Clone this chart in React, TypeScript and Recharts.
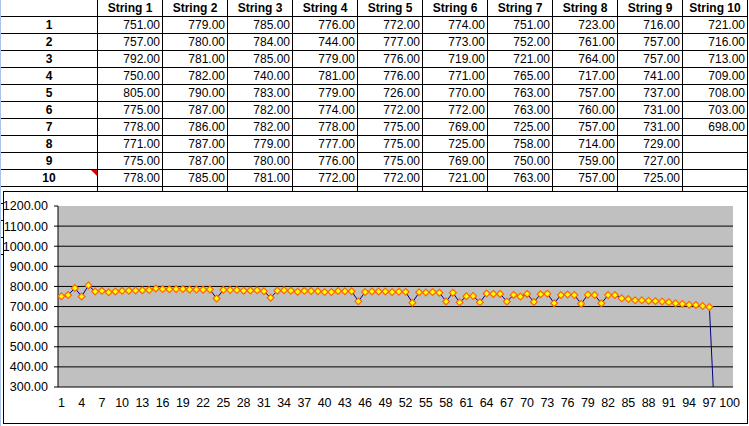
import React from 'react';
import {
  LineChart,
  Line,
  XAxis,
  YAxis,
  CartesianGrid,
} from 'recharts';

// readings per string, top to bottom as in the sheet
const STRING_NAMES = [
  'String 1', 'String 2', 'String 3', 'String 4', 'String 5',
  'String 6', 'String 7', 'String 8', 'String 9', 'String 10',
];
const STRING_1 = [751, 757, 792, 750, 805, 775, 778, 771, 775, 778];
const STRING_2 = [779, 780, 781, 782, 790, 787, 786, 787, 787, 785];
const STRING_3 = [785, 784, 785, 740, 783, 782, 782, 779, 780, 781];
const STRING_4 = [776, 744, 779, 781, 779, 774, 778, 777, 776, 772];
const STRING_5 = [772, 777, 776, 776, 726, 772, 775, 775, 775, 772];
const STRING_6 = [774, 773, 719, 771, 770, 772, 769, 725, 769, 721];
const STRING_7 = [751, 752, 721, 765, 763, 763, 725, 758, 750, 763];
const STRING_8 = [723, 761, 764, 717, 757, 760, 757, 714, 759, 757];
const STRING_9 = [716, 757, 757, 741, 737, 731, 731, 729, 727, 725];
const STRING_10 = [721, 716, 713, 709, 708, 703, 698];
// empty cells at the end of the chart range, plotted as zero
const EMPTY_TAIL = [0, 0, 0];

const STRINGS = [
  STRING_1, STRING_2, STRING_3, STRING_4, STRING_5,
  STRING_6, STRING_7, STRING_8, STRING_9, STRING_10,
];
const ROW_LABELS = [1, 2, 3, 4, 5, 6, 7, 8, 9, 10];

const Y_TICKS = [300, 400, 500, 600, 700, 800, 900, 1000, 1100, 1200];
const GRID_VALUES = [400, 500, 600, 700, 800, 900, 1000, 1100];

const values = [...STRINGS.flat(), ...EMPTY_TAIL];
const chartData = values.map((v, i) => ({ idx: i + 1, v }));
const labelTicks = chartData.map((d) => d.idx).filter((n) => (n - 1) % 3 === 0);
const boundaryTicks = [0.5, ...chartData.map((d) => d.idx + 0.5)];
const xDomain: [number, number] = [0.5, chartData.length + 0.5];

const FONT = '"Liberation Sans", Arial, sans-serif';

// cell edges on the sheet
const COL_X = [1, 98, 163, 228, 293, 358, 423, 488, 553, 618, 683, 748];
const HEADER_H = 17;
const ROW_H = 17;
const EXTRA_ROWS = 14;

function Diamond(props: any) {
  const { cx, cy, index } = props;
  if (cx == null || cy == null) return <g key={index} />;
  const r = 3.4;
  return (
    <polygon
      key={index}
      points={`${cx},${cy - r} ${cx + r},${cy} ${cx},${cy + r} ${cx - r},${cy}`}
      fill="#FFFF00"
      stroke="#FF6600"
      strokeWidth={1.2}
    />
  );
}

function Cell({
  col,
  top,
  height,
  children,
  bold,
  align,
}: {
  col: number;
  top: number;
  height: number;
  children?: React.ReactNode;
  bold?: boolean;
  align: 'center' | 'right';
}) {
  return (
    <div
      style={{
        position: 'absolute',
        left: COL_X[col],
        top,
        width: COL_X[col + 1] - COL_X[col],
        height,
        boxSizing: 'border-box',
        borderRight: '1px solid #000',
        borderBottom: '1px solid #000',
        fontWeight: bold ? 'bold' : 'normal',
        textAlign: align,
        paddingRight: align === 'right' ? 2 : 0,
        lineHeight: `${height - 1}px`,
        fontSize: 12,
        whiteSpace: 'nowrap',
      }}
    >
      {children}
    </div>
  );
}

function Sheet() {
  const cells: React.ReactNode[] = [];
  cells.push(<Cell key="h0" col={0} top={0} height={HEADER_H} align="center" />);
  STRING_NAMES.forEach((name, c) => {
    cells.push(
      <Cell key={`h${c + 1}`} col={c + 1} top={0} height={HEADER_H} bold align="center">
        {name}
      </Cell>
    );
  });
  for (let r = 0; r < EXTRA_ROWS; r++) {
    const top = HEADER_H + r * ROW_H;
    cells.push(
      <Cell key={`r${r}`} col={0} top={top} height={ROW_H} bold align="center">
        {ROW_LABELS[r] ?? ''}
      </Cell>
    );
    STRINGS.forEach((s, c) => {
      const v = s[r];
      cells.push(
        <Cell key={`c${r}-${c}`} col={c + 1} top={top} height={ROW_H} align="right">
          {v != null && r < ROW_LABELS.length ? v.toFixed(2) : ''}
        </Cell>
      );
    });
  }
  return <>{cells}</>;
}

export default function App() {
  return (
    <div
      style={{
        position: 'relative',
        width: 749,
        height: 426,
        overflow: 'hidden',
        background: '#fff',
        fontFamily: FONT,
        color: '#000',
      }}
    >
      <style>{'body{margin:0;}'}</style>
      <Sheet />
      <div style={{ position: 'absolute', left: 0, top: 0, width: 1, height: 426, background: '#a9c4e8' }} />
      <div
        style={{
          position: 'absolute',
          left: 91,
          top: HEADER_H + 9 * ROW_H,
          width: 0,
          height: 0,
          borderTop: '6px solid #e00000',
          borderLeft: '6px solid transparent',
        }}
      />
      <div
        style={{
          position: 'absolute',
          left: 3,
          top: 191,
          width: 745,
          height: 233,
          boxSizing: 'border-box',
          border: '1px solid #000',
          background: '#fff',
        }}
      >
        <LineChart
          width={743}
          height={231}
          data={chartData}
          margin={{ top: 14, right: 14, left: 0, bottom: 11 }}
          style={{ fontFamily: FONT }}
        >
          <CartesianGrid
            xAxisId="bounds"
            vertical={false}
            horizontalValues={GRID_VALUES}
            stroke="#000"
            fill="#C0C0C0"
            fillOpacity={1}
          />
          <XAxis
            xAxisId="bounds"
            dataKey="idx"
            type="number"
            domain={xDomain}
            allowDataOverflow
            ticks={boundaryTicks}
            interval={0}
            tick={false}
            tickSize={5}
            height={5}
            axisLine={{ stroke: '#000' }}
            tickLine={{ stroke: '#000' }}
          />
          <XAxis
            xAxisId="labels"
            dataKey="idx"
            type="number"
            domain={xDomain}
            allowDataOverflow
            ticks={labelTicks}
            interval={0}
            axisLine={false}
            tickLine={false}
            tickSize={0}
            tickMargin={6}
            height={20}
            tick={{ fill: '#000', fontSize: 12.5 }}
          />
          <YAxis
            type="number"
            domain={[300, 1200]}
            allowDataOverflow
            ticks={Y_TICKS}
            interval={0}
            width={54}
            tickSize={4}
            tickMargin={6}
            tickFormatter={(v: number) => v.toFixed(2)}
            tick={{ fill: '#000', fontSize: 12.5 }}
            axisLine={{ stroke: '#000' }}
            tickLine={{ stroke: '#000' }}
          />
          <Line
            xAxisId="labels"
            dataKey="v"
            type="linear"
            stroke="#000080"
            strokeWidth={1}
            dot={Diamond}
            activeDot={false}
            isAnimationActive={false}
          />
        </LineChart>
      </div>
    </div>
  );
}
